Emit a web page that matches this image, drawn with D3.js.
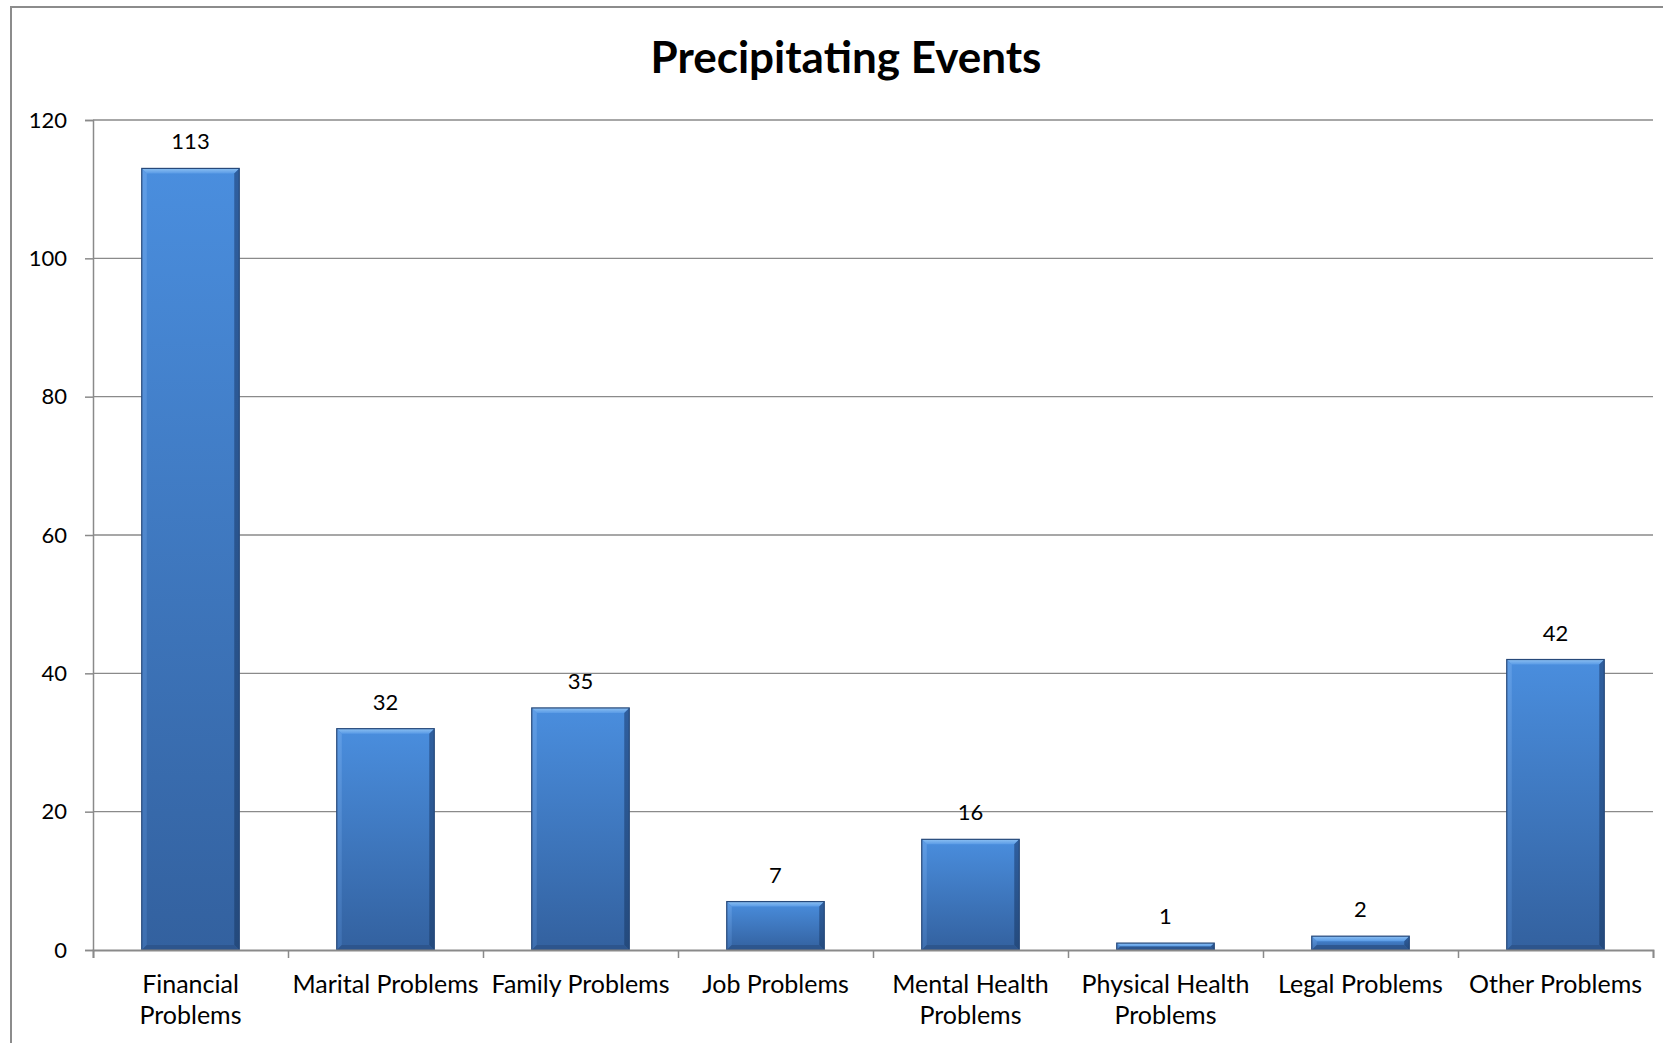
<!DOCTYPE html>
<html><head><meta charset="utf-8">
<script src="https://cdn.jsdelivr.net/npm/d3@7"></script>
<style>
html,body{margin:0;padding:0;background:#fff;}
svg{display:block;font-family:Lato,"Open Sans",sans-serif;}
</style></head>
<body>
<svg id="chart" width="1663" height="1043"></svg>
<script>
const categories = [["Financial","Problems"],["Marital Problems"],["Family Problems"],["Job Problems"],["Mental Health","Problems"],["Physical Health","Problems"],["Legal Problems"],["Other Problems"]];
const values = [113, 32, 35, 7, 16, 1, 2, 42];
const yTicks = [0, 20, 40, 60, 80, 100, 120];
const titleText = "Precipitating Events";

const svg = d3.select("#chart");
const W = 1663, H = 1043;
const m = {left: 93, right: 10, top: 120, bottom: 93};

// frame
svg.append("rect").attr("x", 11).attr("y", 7).attr("width", 1700).attr("height", 1100)
  .attr("fill", "#fff").attr("stroke", "#8c8c8c").attr("stroke-width", 2);

const defs = svg.append("defs");
const g1 = defs.append("linearGradient").attr("id","barGrad").attr("x1",0).attr("y1",0).attr("x2",0).attr("y2",1);
g1.append("stop").attr("offset","0%").attr("stop-color","#4a8ede");
g1.append("stop").attr("offset","100%").attr("stop-color","#33619f");
const g2 = defs.append("linearGradient").attr("id","bevTop").attr("x1",0).attr("y1",0).attr("x2",0).attr("y2",1);
g2.append("stop").attr("offset","0%").attr("stop-color","#8cc0f2");
g2.append("stop").attr("offset","100%").attr("stop-color","#5a9be6");
const g3 = defs.append("linearGradient").attr("id","bevLeft").attr("x1",0).attr("y1",0).attr("x2",0).attr("y2",1);
g3.append("stop").attr("offset","0%").attr("stop-color","#5f9de6");
g3.append("stop").attr("offset","100%").attr("stop-color","#3e6fb0");
const g4 = defs.append("linearGradient").attr("id","bevRight").attr("x1",0).attr("y1",0).attr("x2",0).attr("y2",1);
g4.append("stop").attr("offset","0%").attr("stop-color","#2f5f9f");
g4.append("stop").attr("offset","100%").attr("stop-color","#244a7d");

const x = d3.scaleBand().domain(d3.range(values.length))
  .range([m.left, W - m.right]).paddingInner(0.5).paddingOuter(0.25);
const y = d3.scaleLinear().domain([0, 120]).range([H - m.bottom, m.top]);

// gridlines
svg.append("g").selectAll("line").data(yTicks.filter(d => d > 0)).join("line")
  .attr("x1", m.left).attr("x2", W - m.right)
  .attr("y1", d => y(d)).attr("y2", d => y(d))
  .attr("stroke", "#8a8a8a").attr("stroke-width", 1.3);

// y axis
const yAxis = svg.append("g").attr("transform", `translate(${m.left},0)`)
  .call(d3.axisLeft(y).tickValues(yTicks).tickSize(8).tickPadding(18));
yAxis.select(".domain").attr("stroke", "#8a8a8a").attr("stroke-width", 1.5);
yAxis.selectAll(".tick line").attr("stroke", "#8a8a8a").attr("stroke-width", 1.5);
yAxis.selectAll("text").attr("font-size", 22).attr("fill", "#000").attr("font-family", "Lato");

// bars
const bars = svg.append("g").selectAll("g").data(values).join("g");
const bw = x.bandwidth();
const bev = 5;
bars.each(function(v, i) {
  const gg = d3.select(this);
  const x0 = x(i), x1 = x(i) + bw, yt = y(v), yb = y(0);
  const b = Math.min(bev, (yb - yt) / 2);
  gg.append("rect").attr("x", x0).attr("y", yt).attr("width", bw).attr("height", yb - yt)
    .attr("fill", "url(#barGrad)");
  gg.append("path").attr("d", `M${x0},${yt}L${x1},${yt}L${x1-b},${yt+b}L${x0+b},${yt+b}Z`).attr("fill", "url(#bevTop)");
  gg.append("path").attr("d", `M${x0},${yt}L${x0+b},${yt+b}L${x0+b},${yb-b}L${x0},${yb}Z`).attr("fill", "url(#bevLeft)");
  gg.append("path").attr("d", `M${x1},${yt}L${x1-b},${yt+b}L${x1-b},${yb-b}L${x1},${yb}Z`).attr("fill", "url(#bevRight)");
  gg.append("path").attr("d", `M${x0},${yb}L${x0+b},${yb-b}L${x1-b},${yb-b}L${x1},${yb}Z`).attr("fill", "#2c5388").attr("opacity", 0.8);
  gg.append("rect").attr("x", x0).attr("y", yt).attr("width", bw).attr("height", yb - yt)
    .attr("fill", "none").attr("stroke", "#27497a").attr("stroke-width", 1.2);
  gg.append("text").attr("x", x0 + bw / 2).attr("y", yt - 19).attr("text-anchor", "middle")
    .attr("font-size", 22).attr("fill", "#000").text(v);
});

// x axis (ticks at category boundaries)
const xb = d3.scaleLinear().domain([0, values.length]).range([m.left, W - m.right]);
const xAxis = svg.append("g").attr("transform", `translate(0,${y(0)})`)
  .call(d3.axisBottom(xb).tickValues(d3.range(values.length + 1)).tickSize(8).tickFormat(""));
xAxis.select(".domain").attr("stroke", "#8a8a8a").attr("stroke-width", 1.8);
xAxis.selectAll(".tick line").attr("stroke", "#8a8a8a").attr("stroke-width", 1.5);

// category labels
const labels = svg.append("g").selectAll("text").data(categories).join("text")
  .attr("x", (d, i) => x(i) + bw / 2).attr("y", y(0) + 43)
  .attr("text-anchor", "middle").attr("font-size", 25).attr("fill", "#000");
labels.each(function(lines) {
  const t = d3.select(this);
  lines.forEach((ln, k) => {
    t.append("tspan").attr("x", t.attr("x")).attr("dy", k === 0 ? 0 : 31).text(ln);
  });
});

// title
svg.append("text").attr("x", 846).attr("y", 73).attr("text-anchor", "middle")
  .attr("font-size", 44).attr("font-weight", "bold").attr("fill", "#000").text(titleText);
</script>
</body></html>
